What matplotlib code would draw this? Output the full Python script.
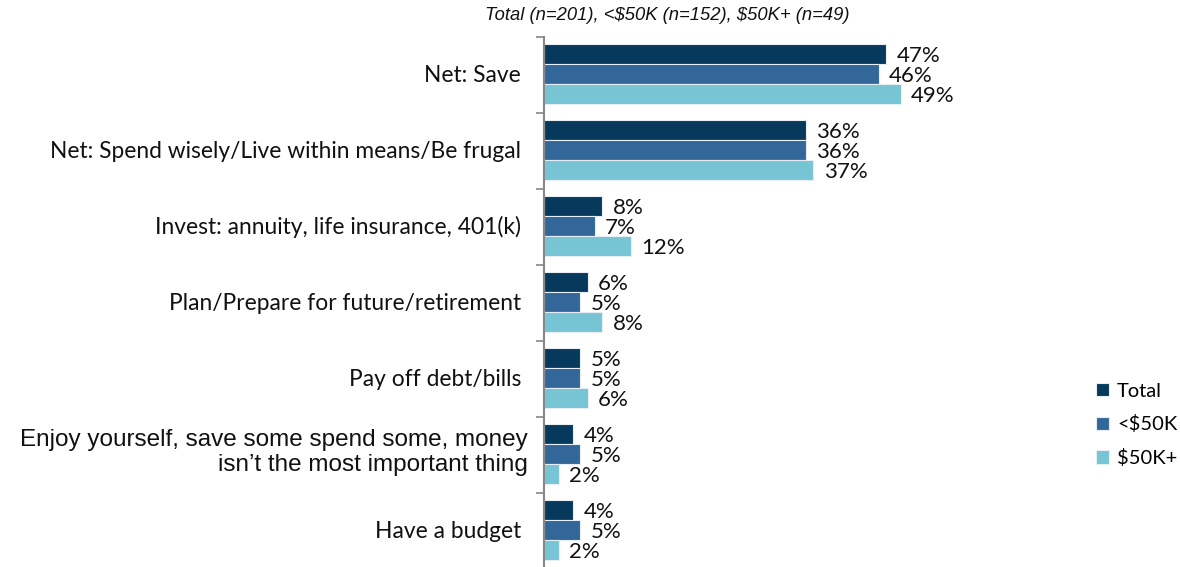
import matplotlib.pyplot as plt
import numpy as np

categories = [
    "Net: Save",
    "Net: Spend wisely/Live within means/Be frugal",
    "Invest: annuity, life insurance, 401(k)",
    "Plan/Prepare for future/retirement",
    "Pay off debt/bills",
    "Enjoy yourself, save some spend some, money\nisn\u2019t the most important thing",
    "Have a budget",
]
series_names = ["Total", "<\\$50K", "\\$50K+"]
total = [47, 36, 8, 6, 5, 4, 4]
under_50k = [46, 36, 7, 5, 5, 5, 5]
over_50k = [49, 37, 12, 8, 6, 2, 2]
subtitle = "Total (n=201), <\\$50K (n=152), \\$50K+ (n=49)"

colors = ["#06395C", "#336799", "#77C4D5"]
W, H = 1180, 567

fig = plt.figure(figsize=(W / 100, H / 100), dpi=100)
ax_left, ax_right = 544 / W, 1060 / W
ax_top, ax_bottom = 1 - 37 / H, 1 - 569 / H
ax = fig.add_axes([ax_left, ax_bottom, ax_right - ax_left, ax_top - ax_bottom])

n = len(categories)
y = np.arange(n)
bh = 0.263
for k, vals in enumerate([total, under_50k, over_50k]):
    ypos = y + (k - 1) * bh - 0.013
    ax.barh(ypos, vals, height=bh, color=colors[k], edgecolor="#E6EEF3",
            linewidth=0.8, label=series_names[k])
    for yy, v in zip(ypos, vals):
        ax.text(v + 1.4, yy + 0.02, f"{v}%", va="center", ha="left",
                fontsize=16, family="Lato", color="#111111")

ax.set_xlim(0, 516 / 7.28)
ax.set_ylim(n - 0.5, -0.5)
ax.set_xticks([])
ax.set_yticks(y)
ax.set_yticklabels([])
ax.tick_params(axis="y", length=0)
ax.set_yticks(np.arange(n + 1) - 0.5, minor=True)
ax.tick_params(axis="y", which="minor", length=6, width=1.2, color="#888888", direction="out")
for s in ["top", "right", "bottom"]:
    ax.spines[s].set_visible(False)
ax.spines["left"].set_color("#888888")
ax.spines["left"].set_linewidth(1.5)

for i, lab in enumerate(categories):
    if "\n" in lab:
        ax.text(-16 / 7.28, i - 0.03, lab, ha="right", va="center", fontsize=17.5,
                family="Liberation Sans", color="#111111", linespacing=1.15)
    else:
        ax.text(-23 / 7.28, i, lab, ha="right", va="center", fontsize=16.4,
                family="Lato", color="#111111")

fig.text(667 / W, 1 - 15 / H, subtitle, ha="center", va="center",
         fontsize=13.2, style="italic", family="Liberation Sans", color="#111111")

handles, labels = ax.get_legend_handles_labels()
leg = fig.legend(handles, labels, loc="center left", bbox_to_anchor=(1096 / W, 1 - 425 / H),
                 frameon=False, prop={"family": "Lato", "size": 14.5},
                 borderaxespad=0, borderpad=0,
                 handlelength=0.65, handleheight=0.65, handletextpad=0.4, labelspacing=0.78)

fig.savefig("out.png", dpi=100)
